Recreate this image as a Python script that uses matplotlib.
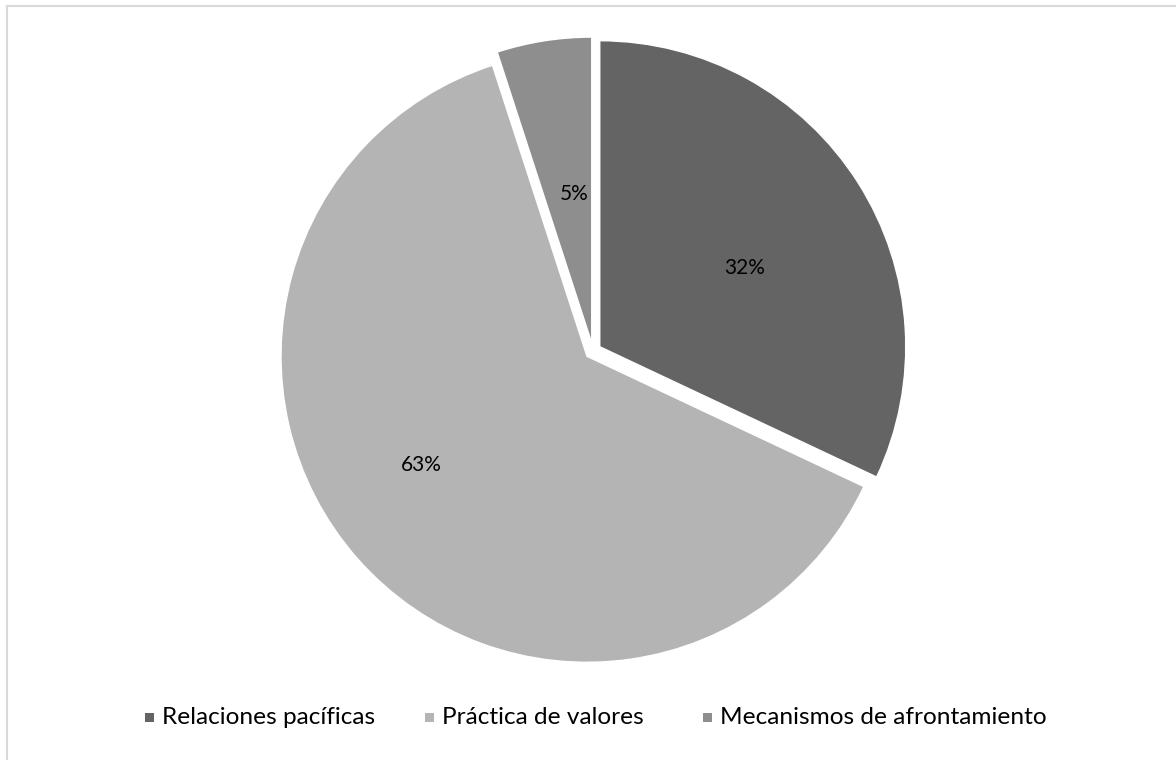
import matplotlib.pyplot as plt
from matplotlib.patches import Rectangle
from matplotlib.lines import Line2D

# Datos del gráfico
categorias = ['Relaciones pacíficas', 'Práctica de valores', 'Mecanismos de afrontamiento']
valores = [32, 63, 5]
colores = ['#646464', '#b4b4b4', '#8e8e8e']

plt.rcParams['font.family'] = ['Lato', 'DejaVu Sans']

W, H = 1176, 760
fig = plt.figure(figsize=(W / 100, H / 100), dpi=100)
ax = fig.add_axes([0, 0, 1, 1])

# Pie en coordenadas de pixel (centro y radio)
wedges, _ = ax.pie(valores, colors=colores, startangle=90, counterclock=False,
                   center=(593, H - 351), radius=306, explode=[8, 8, 8],
                   wedgeprops=dict(edgecolor='white', linewidth=1))
ax.set_xlim(0, W)
ax.set_ylim(0, H)
ax.set_aspect('equal')
ax.axis('off')

# Etiquetas de porcentaje
pos_etiquetas = [(745, H - 268), (421, H - 465), (574, H - 194)]
for v, (x, y) in zip(valores, pos_etiquetas):
    ax.text(x, y, f'{v}%', ha='center', va='center', fontsize=15, color='#000000')

# Leyenda manual
pos_leyenda = [145, 425, 703]
y_ley = H - 717
for x, c, cat in zip(pos_leyenda, colores, categorias):
    ax.add_patch(Rectangle((x, y_ley - 4.5), 9, 9, facecolor=c, edgecolor='none'))
    ax.text(x + 17, y_ley, cat, ha='left', va='center', fontsize=17.6, color='#000000')

# Borde gris (sólo arriba e izquierda visibles)
fig.add_artist(Line2D([7 / W, 1], [1 - 6 / H, 1 - 6 / H], color='#d9d9d9', lw=1.5,
                      transform=fig.transFigure))
fig.add_artist(Line2D([7 / W, 7 / W], [0, 1 - 6 / H], color='#d9d9d9', lw=1.5,
                      transform=fig.transFigure))

fig.savefig('out.png', dpi=100)
